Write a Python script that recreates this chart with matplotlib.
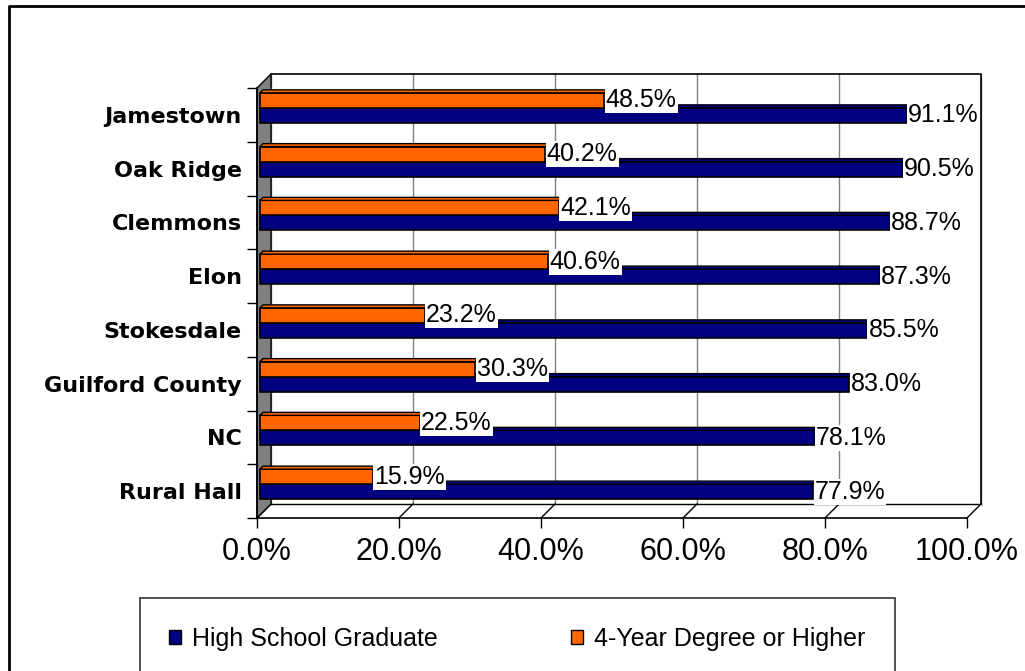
import numpy as np
import matplotlib
matplotlib.use('Agg')
import matplotlib.pyplot as plt
from matplotlib.lines import Line2D
from matplotlib.patches import Patch
from matplotlib.transforms import offset_copy

# data, top to bottom
places = ['Jamestown', 'Oak Ridge', 'Clemmons', 'Elon', 'Stokesdale',
          'Guilford County', 'NC', 'Rural Hall']
high_school = [91.1, 90.5, 88.7, 87.3, 85.5, 83.0, 78.1, 77.9]
four_year = [48.5, 40.2, 42.1, 40.6, 23.2, 30.3, 22.5, 15.9]
x_ticks = [0, 20, 40, 60, 80, 100]
series_names = ['High School Graduate', '4-Year Degree or Higher']

navy = '#000080'
orange = '#FF6600'
wall_gray = '#808080'

W, H = 1025, 671
fig = plt.figure(figsize=(W / 100, H / 100), dpi=100, facecolor='white')

# front plane of the 3d box, in pixels
left_px, right_px, top_px, bot_px = 257, 967, 88, 518
ax = fig.add_axes([left_px / W, 1 - bot_px / H,
                   (right_px - left_px) / W, (bot_px - top_px) / H])
n = len(places)
ax.set_xlim(0, 100)
ax.set_ylim(n - 0.5, -0.5)
ax.patch.set_visible(False)

px_x = (right_px - left_px) / 100.0
px_y = (bot_px - top_px) / n
depth = 14
DX, DY = depth / px_x, -depth / px_y

# back wall grid and edges
for v in x_ticks:
    ax.plot([v + DX, v + DX], [-0.5 + DY, n - 0.5 + DY], color=wall_gray,
            lw=1, zorder=0, clip_on=False)
ax.plot([DX, 100 + DX, 100 + DX], [-0.5 + DY, -0.5 + DY, n - 0.5 + DY],
        color='black', lw=1.2, zorder=1, clip_on=False)
# floor
ax.plot([DX, 100 + DX], [n - 0.5 + DY, n - 0.5 + DY], color='black',
        lw=1, zorder=1, clip_on=False)
for v in x_ticks:
    ax.plot([v, v + DX], [n - 0.5, n - 0.5 + DY], color='black', lw=1,
            zorder=1, clip_on=False)
# gray side wall
ax.fill([0, DX, DX, 0], [-0.5, -0.5 + DY, n - 0.5 + DY, n - 0.5],
        facecolor=wall_gray, edgecolor='black', lw=1, zorder=2, clip_on=False)

# bars sit half way into the depth
bar_tr = offset_copy(ax.transData, fig=fig, x=3, y=depth / 2, units='dots')
y = np.arange(n)
bh = 15 / px_y
tdx, tdy = 3 / px_x, -3 / px_y


def draw_bars(vals, ypos, color):
    ax.barh(ypos, vals, height=bh, color=color, edgecolor='black', lw=1.2,
            transform=bar_tr, zorder=3, clip_on=False)
    for v, yy in zip(vals, ypos):
        top = yy - bh / 2
        ax.fill([0, v, v + tdx, tdx], [top, top, top + tdy, top + tdy],
                facecolor=color, edgecolor='black', lw=1,
                transform=bar_tr, zorder=3, clip_on=False)


draw_bars(high_school, y + bh / 2, navy)
draw_bars(four_year, y - bh / 2, orange)

for vals, ypos in [(high_school, y + bh / 2), (four_year, y - bh / 2)]:
    for v, yy in zip(vals, ypos):
        ax.text(v + 0.2, yy, f'{v:.1f}%', transform=bar_tr, ha='left',
                va='center', fontsize=18, family='Liberation Sans',
                bbox=dict(facecolor='white', edgecolor='none', pad=0.8),
                zorder=5, clip_on=False)

# axes
for s in ['top', 'right']:
    ax.spines[s].set_visible(False)
ax.spines['left'].set_linewidth(1.2)
ax.spines['bottom'].set_linewidth(1.2)
ax.spines['left'].set_zorder(4)
ax.set_xticks(x_ticks)
ax.set_xticklabels([f'{v:.1f}%' for v in x_ticks], fontsize=22,
                   family='Liberation Sans')
ax.tick_params(axis='x', length=7, width=1, pad=7)
ax.set_yticks(y)
ax.set_yticklabels(places, fontsize=16, fontweight='bold',
                   family='DejaVu Sans')
ax.tick_params(axis='y', which='major', length=0, pad=11)
ax.set_yticks(np.arange(n + 1) - 0.5, minor=True)
ax.tick_params(axis='y', which='minor', length=7, width=1)

# legend
handles = [Patch(facecolor=navy, edgecolor='black'),
           Patch(facecolor=orange, edgecolor='black')]
leg = fig.legend(handles, series_names, loc='upper left',
                 bbox_to_anchor=(140 / W, 1 - 598 / H), ncol=2,
                 frameon=True, fancybox=False, edgecolor='black',
                 borderaxespad=0, borderpad=1.15, columnspacing=5.3,
                 handlelength=0.5, handleheight=0.5, handletextpad=0.45,
                 prop={'family': 'Liberation Sans', 'size': 18})
leg.get_frame().set_linewidth(1.2)

# outer chart border (top and left visible)
fig.add_artist(Line2D([9 / W, 9 / W, 1], [0, 1 - 6 / H, 1 - 6 / H],
                      transform=fig.transFigure, color='black', lw=2))

fig.savefig('out.png', dpi=100, facecolor='white')
